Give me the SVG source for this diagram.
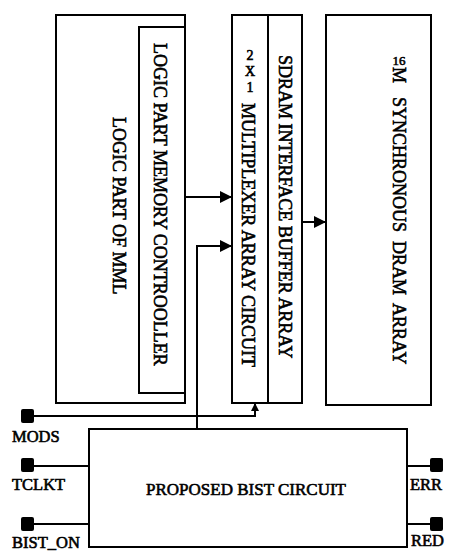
<svg xmlns="http://www.w3.org/2000/svg" width="451" height="552" viewBox="0 0 451 552">
<style>
.box{fill:#fff;stroke:#000;stroke-width:2}
.t{font-family:"Liberation Serif","Times New Roman",serif;font-size:18px;fill:#000;stroke:#000;stroke-width:0.6;white-space:pre}
.lbl{font-family:"Liberation Serif","Times New Roman",serif;font-size:16.5px;fill:#000;stroke:#000;stroke-width:0.6}
.w{fill:none;stroke:#000;stroke-width:2}
.pin{fill:#000}
</style>
<defs>
<marker id="ah" markerUnits="userSpaceOnUse" markerWidth="12" markerHeight="12" refX="12" refY="6" orient="auto">
<path d="M0,0 L12,6 L0,12 z" fill="#000"/>
</marker>
<marker id="ahs" markerUnits="userSpaceOnUse" markerWidth="8" markerHeight="8" refX="8" refY="4" orient="auto">
<path d="M0,0 L8,4 L0,8 z" fill="#000"/>
</marker>
</defs>
<rect width="451" height="552" fill="#fff"/>
<g id="mml">
<rect class="box" x="56" y="15" width="129" height="388"/>
<text class="t" transform="translate(113,117) rotate(90)">LOGIC PART OF MML</text>
</g>
<g id="controller">
<path class="w" d="M185,27 H139 V393 H185"/>
<text class="t" transform="translate(154,43) rotate(90)">LOGIC PART MEMORY CONTROOLLER</text>
</g>
<g id="mux">
<rect class="box" x="232" y="15" width="36" height="388"/>
<text class="t" text-anchor="middle" style="font-size:14px"><tspan x="250" y="60">2</tspan><tspan x="250" y="76">X</tspan><tspan x="250" y="92">1</tspan></text>
<text class="t" transform="translate(242,103) rotate(90)">MULTIPLEXER ARRAY CIRCUIT</text>
</g>
<g id="buffer">
<rect class="box" x="268" y="15" width="34" height="388"/>
<text class="t" transform="translate(279,55) rotate(90)">SDRAM INTERFACE BUFFER ARRAY</text>
</g>
<g id="dram">
<rect class="box" x="326" y="15" width="105" height="390"/>
<text class="t" x="399" y="65" text-anchor="middle" style="font-size:13px">16</text>
<text class="t" transform="translate(393,67) rotate(90)">M</text>
<text class="t" transform="translate(393,97) rotate(90)">SYNCHRONOUS  DRAM  ARRAY</text>
</g>
<g id="bist">
<rect class="box" x="89" y="429" width="318" height="118"/>
<text class="t" x="246" y="495" text-anchor="middle" style="font-size:17px">PROPOSED BIST CIRCUIT</text>
</g>
<g id="pins">
<rect class="pin" x="21" y="409" width="13" height="14" rx="2"/>
<text class="lbl" x="12" y="442">MODS</text>
<rect class="pin" x="21" y="458" width="13" height="14" rx="2"/>
<text class="lbl" x="12" y="490">TCLKT</text>
<rect class="pin" x="21" y="517" width="13" height="14" rx="2"/>
<text class="lbl" x="12" y="548">BIST_ON</text>
<rect class="pin" x="430" y="458" width="13" height="14" rx="2"/>
<text class="lbl" x="410" y="490">ERR</text>
<rect class="pin" x="430" y="517" width="13" height="14" rx="2"/>
<text class="lbl" x="411" y="546">RED</text>
</g>
<g id="connectors">
<path class="w" d="M185,197 H232" marker-end="url(#ah)"/>
<path class="w" d="M197,429 V246 H232" marker-end="url(#ah)"/>
<path class="w" d="M302,222 H326" marker-end="url(#ah)"/>
<path class="w" d="M33,416 H255 V403" marker-end="url(#ahs)"/>
<path class="w" d="M33,466 H89"/>
<path class="w" d="M33,524 H89"/>
<path class="w" d="M407,466 H431"/>
<path class="w" d="M407,524 H431"/>
</g>
</svg>
